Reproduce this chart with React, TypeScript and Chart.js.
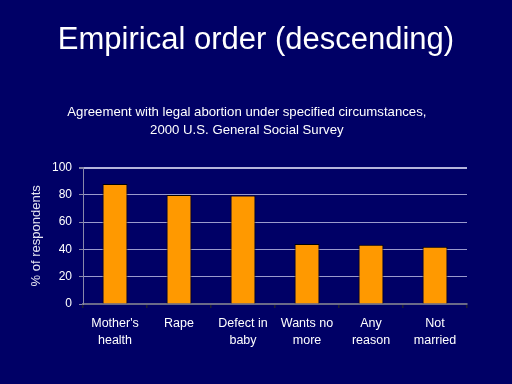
import React, { useEffect, useRef } from "react";
import { Chart, registerables } from "chart.js";

Chart.register(...registerables);

const categories: string[][] = [
  ["Mother's", "health"],
  ["Rape"],
  ["Defect in", "baby"],
  ["Wants no", "more"],
  ["Any", "reason"],
  ["Not", "married"],
];
const agreeValues: number[] = [88, 80, 79.5, 44, 43.5, 42];
const yTicks: number[] = [0, 20, 40, 60, 80, 100];

const titleText = "Empirical order (descending)";
const subtitleLines = [
  "Agreement with legal abortion under specified circumstances,     ",
  "2000 U.S. General Social Survey     ",
];
const yAxisTitle = "% of respondents";

const BG = "#000066";
const FONT = "'Liberation Sans', Arial, sans-serif";

export default function App() {
  const ref = useRef<HTMLCanvasElement | null>(null);

  useEffect(() => {
    document.body.style.margin = "0";
    document.body.style.background = BG;
    const canvas = ref.current!;
    const bgPlugin = {
      id: "bg",
      beforeDraw(chart: any) {
        const ctx = chart.ctx;
        ctx.save();
        ctx.fillStyle = BG;
        ctx.fillRect(0, 0, chart.width, chart.height);
        ctx.restore();
      },
    };
    const chart = new Chart(canvas, {
      type: "bar",
      data: {
        labels: categories,
        datasets: [
          {
            data: agreeValues,
            backgroundColor: "#FF9900",
            borderColor: "#000000",
            borderWidth: 1,
            barPercentage: 0.39,
            categoryPercentage: 1,
          },
        ],
      },
      options: {
        animation: false,
        responsive: false,
        maintainAspectRatio: false,
        layout: { padding: { left: 0, right: 0, top: 0, bottom: 0 } },
        plugins: {
          legend: { display: false },
          tooltip: { enabled: false },
          title: {
            display: true,
            text: titleText,
            color: "#ffffff",
            font: { family: FONT, size: 31, weight: "normal", lineHeight: 1.2 },
            padding: { top: 22, bottom: 44 },
          },
          subtitle: {
            display: true,
            text: subtitleLines,
            color: "#ffffff",
            font: { family: FONT, size: 13.2, weight: "normal", lineHeight: 1.36 },
            padding: { top: 0, bottom: 28.5 },
          },
        },
        scales: {
          x: {
            offset: true,
            grid: {
              offset: true,
              drawOnChartArea: true,
              color: (ctx: any) => (ctx.index === categories.length ? "#c8c8d8" : "rgba(0,0,0,0)"),
              lineWidth: 1.5,
              tickColor: "#202030",
              tickLength: 4,
            },
            border: { display: true, color: "#6a6a88", width: 2 },
            ticks: {
              color: "#ffffff",
              font: { family: FONT, size: 12.5, lineHeight: 1.36 },
              padding: 7,
              maxRotation: 0,
              autoSkip: false,
            },
            afterFit: (axis: any) => {
              axis.height = 80;
            },
          },
          y: {
            min: 0,
            max: 100,
            afterBuildTicks: (axis: any) => {
              axis.ticks = yTicks.map((v) => ({ value: v }));
            },
            grid: {
              color: (ctx: any) => (ctx.tick && ctx.tick.value === 100 ? "#b4b4dc" : "#9a9acc"),
              lineWidth: (ctx: any) => (ctx.tick && ctx.tick.value === 100 ? 2 : 1),
              tickColor: "#8888aa",
              tickLength: 4,
            },
            border: { display: true, color: "#8888aa", width: 1 },
            ticks: {
              color: "#ffffff",
              font: { family: FONT, size: 12 },
              padding: 7,
            },
            title: {
              display: true,
              text: yAxisTitle,
              color: "#e6e6f2",
              font: { family: FONT, size: 13, weight: "normal", lineHeight: 1.2 },
              padding: { top: 29, bottom: 0 },
            },
            afterFit: (axis: any) => {
              axis.width = 83;
            },
          },
          yRight: {
            position: "right",
            display: true,
            grid: { display: false, drawTicks: false },
            border: { display: false },
            ticks: { display: false },
            afterFit: (axis: any) => {
              axis.width = 45;
            },
          },
        },
      },
      plugins: [bgPlugin],
    });
    return () => chart.destroy();
  }, []);

  return (
    <div style={{ width: 512, height: 384, background: BG }}>
      <canvas ref={ref} width={512} height={384} style={{ display: "block" }} />
    </div>
  );
}
